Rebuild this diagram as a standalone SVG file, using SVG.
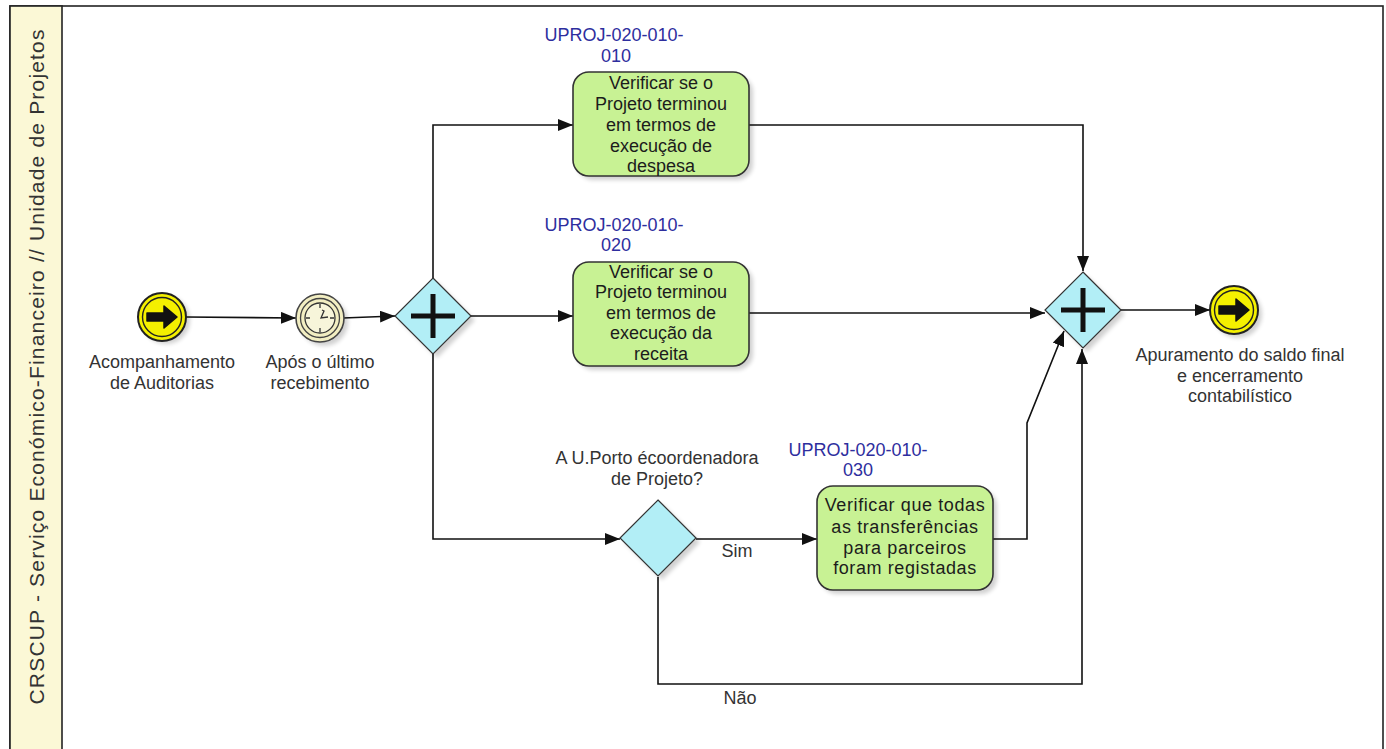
<svg xmlns="http://www.w3.org/2000/svg" width="1386" height="749" viewBox="0 0 1386 749">
<style>
text{font-family:"Liberation Sans",Arial,sans-serif;font-size:18px;fill:#333;text-anchor:middle}
.lbl{fill:#2e2e9e;font-size:18px}
.tt{fill:#1c1c1c}
.task{fill:#c8f294;stroke:#333;stroke-width:1.6}
.gw{fill:#b2eef6;stroke:#333;stroke-width:1.2}
.cross{stroke:#111;stroke-width:5;fill:none}
.ev{fill:#f4f000;stroke:#222;stroke-width:2}
.evi{fill:none;stroke:#222;stroke-width:1.4}
.flow{fill:none;stroke:#111;stroke-width:1.6}
.sh{fill:#000;opacity:0.18}
</style>
<defs>
<marker id="arr" markerUnits="userSpaceOnUse" markerWidth="16" markerHeight="12" refX="15" refY="6" orient="auto">
<path d="M0,0 L15,6 L0,12 z" fill="#111"/>
</marker>
<filter id="blur" x="-20%" y="-20%" width="140%" height="140%"><feGaussianBlur stdDeviation="2"/></filter>
</defs>
<rect x="0" y="0" width="1386" height="749" fill="#fff"/>
<g id="pool">
<rect x="10" y="6" width="1373" height="800" fill="#fff" stroke="#222" stroke-width="1.6"/>
<rect x="10" y="6" width="52" height="800" fill="#fbf8d6" stroke="#222" stroke-width="1.6"/>
<text transform="translate(44,367) rotate(-90)" x="0" y="0" textLength="675" lengthAdjust="spacing" style="font-size:21px">CRSCUP - Serviço Económico-Financeiro // Unidade de Projetos</text>
</g>
<g id="connectors">
<path class="flow" d="M186,317 L296,318" marker-end="url(#arr)"/>
<path class="flow" d="M343,318 L395,316" marker-end="url(#arr)"/>
<path class="flow" d="M433,278 L433,125 L573,125" marker-end="url(#arr)"/>
<path class="flow" d="M471,316 L573,316" marker-end="url(#arr)"/>
<path class="flow" d="M433,354 L433,539 L620,539" marker-end="url(#arr)"/>
<path class="flow" d="M749,125 L1083,125 L1083,271" marker-end="url(#arr)"/>
<path class="flow" d="M749,313 L1045,313" marker-end="url(#arr)"/>
<path class="flow" d="M696,539 L817,539" marker-end="url(#arr)"/>
<path class="flow" d="M993,539 L1027,539 L1027,423 L1064,331" marker-end="url(#arr)"/>
<path class="flow" d="M658,577 L658,684 L1082,684 L1082,349" marker-end="url(#arr)"/>
<path class="flow" d="M1121,310 L1210,310" marker-end="url(#arr)"/>
<text x="737" y="557">Sim</text>
<text x="740" y="704">Não</text>
</g>
<g id="start">
<circle cx="166" cy="320" r="24" class="sh" filter="url(#blur)"/>
<circle cx="162" cy="317" r="24" class="ev"/>
<circle cx="162" cy="317" r="19.5" class="evi"/>
<path d="M147,313 L164,313 L164,306 L177,317 L164,328 L164,321 L147,321 z" fill="#111" stroke="#111" stroke-width="1.5" stroke-linejoin="round"/>
<text x="162" y="368">Acompanhamento</text>
<text x="162" y="389">de Auditorias</text>
</g>
<g id="timer">
<circle cx="324" cy="322" r="24" class="sh" filter="url(#blur)"/>
<circle cx="320" cy="318" r="24" fill="#f2eec2" stroke="#444" stroke-width="1.6"/>
<circle cx="320" cy="318" r="19.5" fill="none" stroke="#444" stroke-width="1.3"/>
<circle cx="320" cy="318" r="15" fill="#f7f5da" stroke="#333" stroke-width="1.3"/>
<path d="M320,304 v4 M320,328 v4 M306,318 h4 M330,318 h4" stroke="#333" stroke-width="1.3"/>
<path d="M322,310 L324,311 L321,318 L328,317" fill="none" stroke="#333" stroke-width="1.3"/>
<text x="320" y="368">Após o último</text>
<text x="320" y="389">recebimento</text>
</g>
<g id="gateway1">
<path d="M437,282 L475,320 L437,358 L399,320 z" class="sh" filter="url(#blur)"/>
<path d="M433,278 L471,316 L433,354 L395,316 z" class="gw"/>
<path d="M411,316 H455 M433,294 V338" class="cross"/>
</g>
<g id="task1">
<rect x="577" y="76" width="176" height="104" rx="16" class="sh" filter="url(#blur)"/>
<rect x="573" y="72" width="176" height="104" rx="16" class="task"/>
<text class="lbl" x="614" y="41">UPROJ-020-010-</text>
<text class="lbl" x="616" y="62">010</text>
<text class="tt" x="661" y="89">Verificar se o</text>
<text class="tt" x="661" y="110">Projeto terminou</text>
<text class="tt" x="661" y="131">em termos de</text>
<text class="tt" x="661" y="152">execução de</text>
<text class="tt" x="661" y="172">despesa</text>
</g>
<g id="task2">
<rect x="577" y="266" width="176" height="104" rx="16" class="sh" filter="url(#blur)"/>
<rect x="573" y="262" width="176" height="104" rx="16" class="task"/>
<text class="lbl" x="614" y="231">UPROJ-020-010-</text>
<text class="lbl" x="616" y="251">020</text>
<text class="tt" x="661" y="278">Verificar se o</text>
<text class="tt" x="661" y="298">Projeto terminou</text>
<text class="tt" x="661" y="319">em termos de</text>
<text class="tt" x="661" y="339">execução da</text>
<text class="tt" x="661" y="360">receita</text>
</g>
<g id="gateway3">
<path d="M662,504 L700,542 L662,580 L624,542 z" class="sh" filter="url(#blur)"/>
<path d="M658,500 L696,538 L658,576 L620,538 z" class="gw"/>
<text x="657" y="464">A U.Porto écoordenadora</text>
<text x="657" y="485">de Projeto?</text>
</g>
<g id="task3">
<rect x="821" y="490" width="176" height="104" rx="16" class="sh" filter="url(#blur)"/>
<rect x="817" y="486" width="176" height="104" rx="16" class="task"/>
<text class="lbl" x="858" y="456">UPROJ-020-010-</text>
<text class="lbl" x="858" y="476">030</text>
<text class="tt" x="905" y="511" style="letter-spacing:0.6px">Verificar que todas</text>
<text class="tt" x="905" y="533" style="letter-spacing:0.6px">as transferências</text>
<text class="tt" x="905" y="554" style="letter-spacing:0.6px">para parceiros</text>
<text class="tt" x="905" y="574" style="letter-spacing:0.6px">foram registadas</text>
</g>
<g id="gateway2">
<path d="M1087,276 L1125,314 L1087,352 L1049,314 z" class="sh" filter="url(#blur)"/>
<path d="M1083,272 L1121,310 L1083,348 L1045,310 z" class="gw"/>
<path d="M1061,310 H1105 M1083,288 V332" class="cross"/>
</g>
<g id="end">
<circle cx="1238" cy="314" r="24" class="sh" filter="url(#blur)"/>
<circle cx="1234" cy="310" r="24" class="ev"/>
<circle cx="1234" cy="310" r="19.5" class="evi"/>
<path d="M1219,306 L1236,306 L1236,299 L1249,310 L1236,321 L1236,314 L1219,314 z" fill="#111" stroke="#111" stroke-width="1.5" stroke-linejoin="round"/>
<text x="1240" y="361">Apuramento do saldo final</text>
<text x="1240" y="382">e encerramento</text>
<text x="1240" y="402">contabilístico</text>
</g>
</svg>
